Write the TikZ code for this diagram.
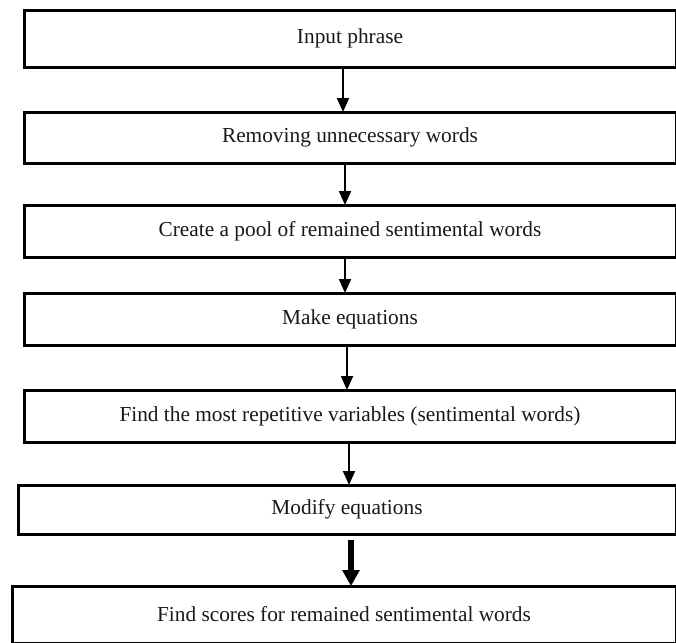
\documentclass[tikz,border=0pt]{standalone}
\usepackage{fontspec}
\setmainfont{Liberation Serif}
\usetikzlibrary{arrows.meta}
\tikzset{
  stepbox/.style={draw=black, line width=2.25pt, fill=white, inner sep=0pt, outer sep=0pt,
    minimum width=489pt, font=\fontsize{16}{19}\selectfont, text=black!90},
  arr/.style={line width=1.5pt, -{Triangle[width=9pt,length=10.5pt]}},
  thickarr/.style={line width=4.5pt, -{Triangle[width=12.5pt,length=12pt]}}
}
\begin{document}
\begin{tikzpicture}[x=0.75pt,y=-0.75pt]
\useasboundingbox (0,0) rectangle (676,643);
\node[stepbox, minimum height=42.75pt] (a) at (350,38.5) {Input phrase};
\node[stepbox, minimum height=38.25pt] (b) at (350,137.5) {Removing unnecessary words};
\node[stepbox, minimum height=39pt] (c) at (350,231) {Create a pool of remained sentimental words};
\node[stepbox, minimum height=39pt] (d) at (350,319) {Make equations};
\node[stepbox, minimum height=39pt] (e) at (350,416) {Find the most repetitive variables (sentimental words)};
\node[stepbox, minimum width=493.5pt, minimum height=36.75pt] (f) at (347,509.5) {Modify equations};
\node[stepbox, minimum width=498pt, minimum height=42.75pt] (g) at (344,614.5) {Find scores for remained sentimental words};
\draw[arr] ([xshift=-5.25pt]a.south) -- ([xshift=-5.25pt]b.north);
\draw[arr] ([xshift=-3.75pt]b.south) -- ([xshift=-3.75pt]c.north);
\draw[arr] ([xshift=-3.75pt]c.south) -- ([xshift=-3.75pt]d.north);
\draw[arr] ([xshift=-2.25pt]d.south) -- ([xshift=-2.25pt]e.north);
\draw[arr] ([xshift=-0.75pt]e.south) -- ([xshift=1.5pt]f.north);
\draw[thickarr] ([xshift=3pt,yshift=-4.5pt]f.south) -- ([xshift=5.25pt]g.north);
\end{tikzpicture}
\end{document}
